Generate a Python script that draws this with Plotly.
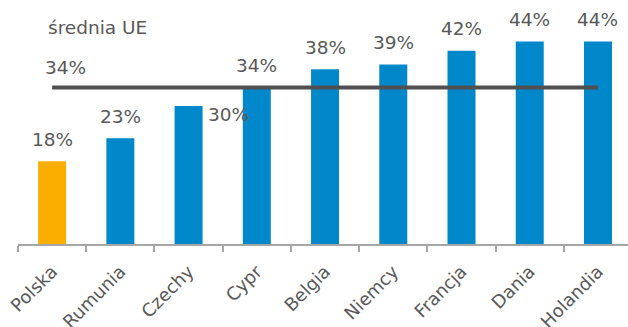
import plotly.graph_objects as go

countries = ["Polska", "Rumunia", "Czechy", "Cypr", "Belgia", "Niemcy", "Francja", "Dania", "Holandia"]
shares = [0.18, 0.23, 0.30, 0.34, 0.38, 0.39, 0.42, 0.44, 0.44]
eu_average = 0.34
avg_label = "średnia UE"

BLUE = "#0088cb"
ORANGE = "#f9ae00"
TEXT = "#595959"
FONT = "DejaVu Sans"
SIZE = 18.5

bar_colors = [ORANGE if c == "Polska" else BLUE for c in countries]

fig = go.Figure()
fig.add_trace(go.Bar(
    x=countries, y=shares, marker=dict(color=bar_colors, line=dict(width=0)),
    hoverinfo="skip",
))
fig.add_trace(go.Scatter(
    x=countries, y=[eu_average] * len(countries), mode="lines",
    line=dict(color="#505050", width=4), hoverinfo="skip",
))

annotations = []
for c, v in zip(countries, shares):
    if c == "Czechy":
        annotations.append(dict(x=c, y=v, text=f"{v:.0%}", showarrow=False,
                                xshift=40, yshift=-8, yanchor="middle",
                                font=dict(size=SIZE, color=TEXT, family=FONT)))
    else:
        annotations.append(dict(x=c, y=v, text=f"{v:.0%}", showarrow=False,
                                yshift=22, yanchor="middle",
                                font=dict(size=SIZE, color=TEXT, family=FONT)))
annotations.append(dict(x=countries[0], y=eu_average, text=f"{eu_average:.0%}",
                        showarrow=False, xshift=13, yshift=20, yanchor="middle",
                        font=dict(size=SIZE, color=TEXT, family=FONT)))
annotations.append(dict(x=countries[0], y=eu_average, text=avg_label,
                        showarrow=False, xanchor="left", xshift=-6, yshift=60,
                        yanchor="middle",
                        font=dict(size=SIZE, color=TEXT, family=FONT)))

fig.update_layout(
    width=628, height=327,
    margin=dict(l=18, r=0, t=14, b=83, autoexpand=False),
    plot_bgcolor="white", paper_bgcolor="white",
    showlegend=False, bargap=0.59,
    annotations=annotations,
    font=dict(family=FONT, color=TEXT, size=18),
)
fig.update_xaxes(
    range=[-0.5, 8.44], showline=True, linecolor="#a6a6a6", linewidth=2,
    ticks="outside", tickson="boundaries", ticklen=6, tickcolor="#a6a6a6",
    tickwidth=2, tickangle=-45, ticklabelstandoff=8, automargin=False,
    tickfont=dict(size=18, color=TEXT, family=FONT),
    showgrid=False,
)
fig.update_yaxes(range=[0, 0.5], visible=False, showgrid=False)

fig.write_html("out.html")
